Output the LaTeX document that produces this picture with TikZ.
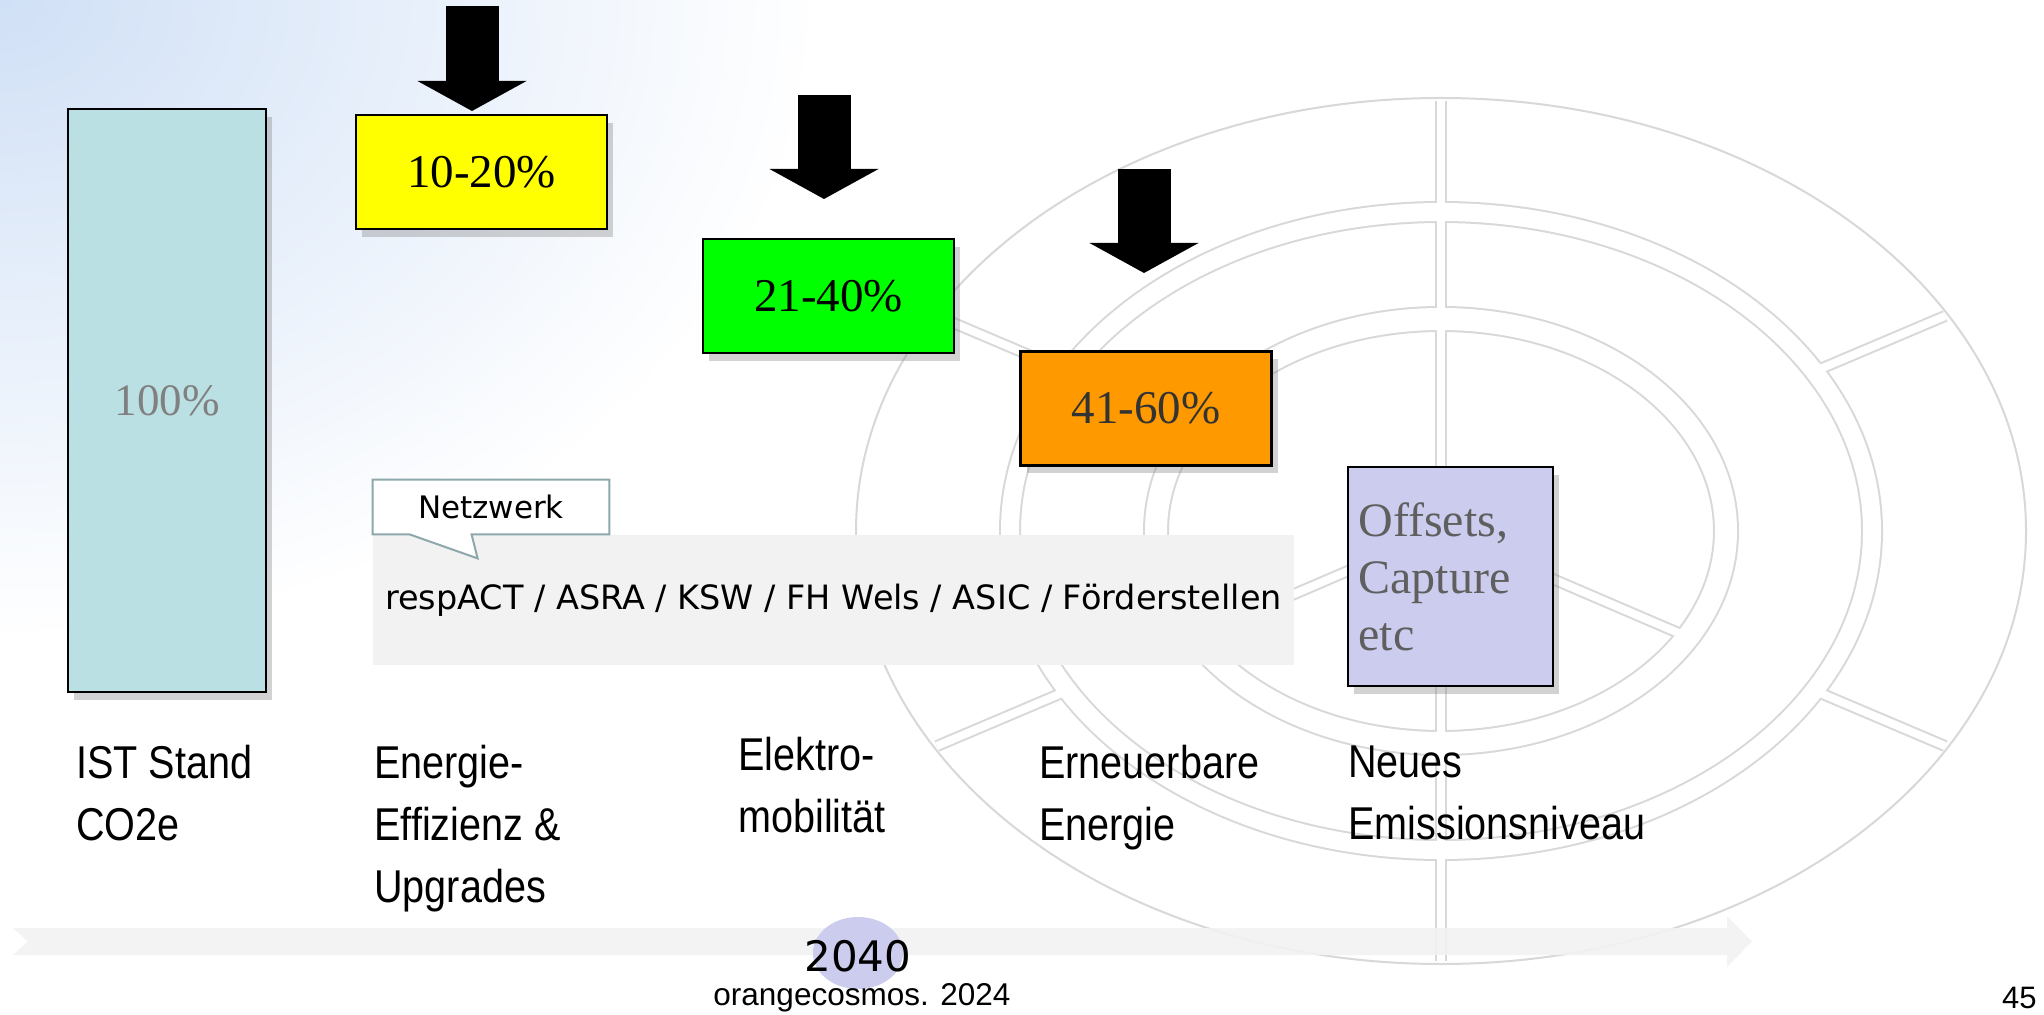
\documentclass[tikz,border=0pt]{standalone}
\usepackage{fontspec}
\setmainfont{Liberation Serif}
\newfontfamily\labelfont[FakeStretch=0.86]{Liberation Sans}
\newfontfamily\footfont{Liberation Sans}
\newfontfamily\netfont{DejaVu Sans}
\usetikzlibrary{arrows.meta,shadows}

\definecolor{himmel}{RGB}{208,224,246}
\definecolor{tuerkis}{RGB}{187,224,227}
\definecolor{gelb}{RGB}{255,255,0}
\definecolor{gruen}{RGB}{0,255,0}
\definecolor{orangefill}{RGB}{255,153,0}
\definecolor{lila}{RGB}{204,204,238}
\definecolor{bandgrau}{RGB}{242,242,242}
\definecolor{radgrau}{RGB}{216,216,216}
\definecolor{rahmen}{RGB}{140,168,170}
\definecolor{textgrau}{RGB}{95,95,95}

\begin{document}
\begin{tikzpicture}[x=0.5pt, y=-0.5pt,
  box/.style={draw=black, line width=1.2pt, inner sep=0pt,
    drop shadow={shadow xshift=3pt, shadow yshift=-4pt, opacity=.35}},
  prozent/.style={box, minimum width=125.5pt, minimum height=57pt,
    font=\fontsize{23.5}{28}\selectfont},
  stufe/.style={anchor=north west, inner sep=0pt, align=left,
    font=\labelfont\fontsize{23}{31}\selectfont},
  pfeil/.style={line width=26.5pt,
    -{Triangle[width=54.5pt, length=15pt, line width=0pt]}},
  rahmenlinie/.style={draw=rahmen, line width=1pt},
]
\useasboundingbox (0,0) rectangle (2044,1015);
\fill[white] (0,0) rectangle (2044,1015);

% verlauf oben links
\begin{scope}
\clip (0,0) rectangle (2044,1015);
\shade[inner color=himmel, outer color=white] (0,0) ellipse [x radius=820, y radius=640];
\end{scope}

% rad im hintergrund
\begin{scope}[shift={(1441,531)}]
\draw[radgrau, line width=1pt] (0,0) ellipse [x radius=585, y radius=433];
\foreach \farbe/\plus in {radgrau/2pt, white/0pt} {
  \draw[\farbe, line width=9pt+\plus] (0,0) ellipse [x radius=431, y radius=319];
  \draw[\farbe, line width=11pt+\plus] (0,0) ellipse [x radius=285, y radius=212];
  \foreach \w in {30,150,210,330}
    \draw[\farbe, line width=4pt+\plus] ({431*cos(\w)},{-319*sin(\w)}) -- ({582*cos(\w)},{-430*sin(\w)});
  \foreach \w in {210,330}
    \draw[\farbe, line width=4pt+\plus] (0,0) -- ({285*cos(\w)},{-212*sin(\w)});
  \draw[\farbe, line width=4pt+\plus] (0,-430) -- (0,430);
}
\end{scope}

% zeitachse
\fill[bandgrau, opacity=.9] (13,928) -- (1727,928) -- (1727,916) -- (1752,941.5)
  -- (1727,967) -- (1727,955) -- (13,955) -- (28,941.5) -- cycle;

% netzwerk
\node[fill=bandgrau, minimum width=460.5pt, minimum height=65pt, inner sep=0pt,
  font=\netfont\fontsize{16.75}{20}\selectfont] (band) at (833.5,600)
  {\raisebox{-4.5pt}{respACT / ASRA / KSW / FH Wels / ASIC / Förderstellen}};
\node[fill=white, minimum width=118pt, minimum height=27pt, inner sep=0pt,
  font=\netfont\fontsize{15.5}{18}\selectfont] (netz) at (491,507) {Netzwerk};
\fill[white] ([xshift=49.5pt]netz.south west) -- ([xshift=52.5pt, yshift=-12pt]netz.south west)
  -- ([xshift=18.5pt]netz.south west) -- cycle;
\draw[rahmenlinie] (netz.north west) -- (netz.north east) -- (netz.south east)
  -- ([xshift=49.5pt]netz.south west) -- ([xshift=52.5pt, yshift=-12pt]netz.south west)
  -- ([xshift=18.5pt]netz.south west) -- (netz.south west) -- cycle;

% kaesten
\node[box, fill=tuerkis, text=black!50, minimum width=99pt, minimum height=291.5pt,
  font=\fontsize{22.5}{27}\selectfont] (ist100) at (167,400.5) {100\%};
\node[prozent, fill=gelb] (stufe1) at (481.5,172) {10-20\%};
\node[prozent, fill=gruen] (stufe2) at (828.5,296) {21-40\%};
\node[prozent, fill=orangefill, text=black!80] (stufe3) at (1146,408.5) {41-60\%};
\node[box, fill=lila, text=textgrau, minimum width=102.5pt, minimum height=109.5pt,
  text width=92pt, align=left, font=\fontsize{24}{28.5}\selectfont] (rest) at (1450.5,576.5)
  {Offsets,\\Capture\\etc};

% pfeile
\coordinate (p1) at (472,6);
\coordinate (q1) at (472,111);
\coordinate (p2) at (824,95);
\coordinate (q2) at (824,199);
\coordinate (p3) at (1144,169);
\coordinate (q3) at (1144,273);
\draw[pfeil] (p1) -- (q1);
\draw[pfeil] (p2) -- (q2);
\draw[pfeil] (p3) -- (q3);

% beschriftungen
\node[stufe] (ist) at (76,745) {IST Stand\\CO2e};
\node[stufe] (eff) at (374,745) {Energie-\\Effizienz \&\\Upgrades};
\node[stufe] (mob) at (738,737) {Elektro-\\mobilität};
\node[stufe] (ern) at (1039,745) {Erneuerbare\\Energie};
\node[stufe] (neu) at (1348,745) {Neues\\Emissionsniveau};

% jahr und fusszeile
\fill[lila] (858,953) ellipse [x radius=45, y radius=36];
\node[font=\netfont\fontsize{21}{24}\selectfont, inner sep=0pt] (jahr) at (858,956) {2040};
\node[font=\footfont\fontsize{15.75}{18}\selectfont, anchor=base, inner sep=0pt] (quelle) at (862,1005) {orangecosmos. 2024};
\node[font=\footfont\fontsize{15.5}{18}\selectfont, anchor=base east, inner sep=0pt] (seite) at (2037,1008) {45};
\end{tikzpicture}
\end{document}
